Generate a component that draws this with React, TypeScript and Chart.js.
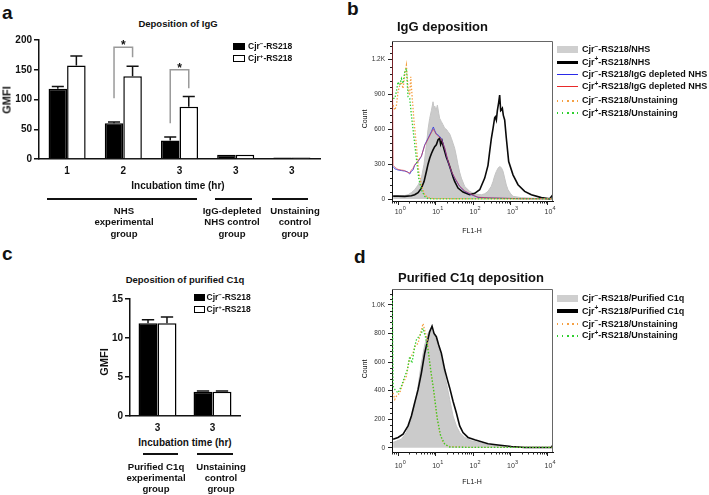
import React, { useEffect, useRef } from 'react';
import { Chart, registerables } from 'chart.js';

Chart.register(...registerables);

const FONT = "'Liberation Sans', Arial, Helvetica, sans-serif";

// ---------------- Panel a: Deposition of IgG ----------------
const aCategories = ['1', '2', '3', '3', '3'];
const aCjrMinus = [118, 60, 31, 7, 2.5];
const aCjrPlus = [157, 139, 88, 7, 2.5];
const aCjrMinusErr = [122, 62, 37, null, null];
const aCjrPlusErr = [173, 156, 105, null, null];
const aYTicks = [0, 50, 100, 150, 200];
const aSigIndex = [1, 2];
const aSigLeftFoot = [102, 60];
const aSigTop = [188, 150];
const aSigRightFoot = [171, 119];
const aSigLabel = ['*', '*'];
const aGroupLabels = [
  ['NHS', 'experimental', 'group'],
  ['IgG-depleted', 'NHS control', 'group'],
  ['Unstaining', 'control', 'group'],
];

// ---------------- Panel c: Deposition of purified C1q ----------------
const cCategories = ['3', '3'];
const cCjrMinus = [11.9, 3.1];
const cCjrPlus = [11.9, 3.1];
const cCjrMinusErr = [12.35, 3.2];
const cCjrPlusErr = [12.7, 3.2];
const cYTicks = [0, 5, 10, 15];
const cGroupLabels = [
  ['Purified C1q', 'experimental', 'group'],
  ['Unstaining', 'control', 'group'],
];

// ---------------- Histogram axes ----------------
const flowXTicks = [1, 10, 100, 1000, 10000];
const flowXTickBase = ['10', '10', '10', '10', '10'];
const flowXTickExp = ['0', '1', '2', '3', '4'];
const bYTicks = [0, 300, 600, 900, 1200];
const bYTickLabels = ['0', '300', '600', '900', '1.2K'];
const dYTicks = [0, 200, 400, 600, 800, 1000];
const dYTickLabels = ['0', '200', '400', '600', '800', '1.0K'];

// ---------------- Panel b: IgG deposition (FL1-H, Count) ----------------
const bGrayX = [0.74, 1.0, 1.51, 1.85, 2.27, 2.78, 3.42, 4.19, 4.94, 5.7, 6.31, 6.99, 7.74, 8.58, 9.12, 9.5, 10.3, 11.2, 12.15, 12.9, 14.3, 15.8, 17.6, 19.45, 21.5, 23.9, 26.4, 29.3, 32.4, 35.9, 39.8, 44.1, 48.9, 60.0, 81.5, 111, 167, 205, 251, 308, 342, 378, 419, 464, 514, 570, 631, 699, 774, 858, 1010, 1166, 1945, 5412, 12270, 13590];
const bGrayY = [20, 20, 30, 37, 55, 80, 120, 180, 300, 465, 600, 694, 760, 837, 780, 800, 760, 808, 740, 694, 666, 640, 608, 600, 580, 560, 523, 480, 437, 370, 294, 230, 180, 108, 66, 43, 37, 45, 66, 110, 151, 200, 237, 265, 280, 270, 240, 180, 120, 80, 45, 23, 12, 5, 2, 2];
const bBlackX = [0.74, 1.0, 1.51, 2.27, 2.78, 3.42, 4.19, 4.94, 5.7, 6.31, 6.99, 7.74, 8.58, 9.5, 10.5, 11.7, 12.9, 13.7, 14.9, 16.2, 17.6, 19.45, 21.5, 23.9, 26.4, 29.3, 32.4, 39.8, 54.1, 81.5, 111, 151, 205, 251, 278, 308, 342, 378, 394, 419, 446, 483, 514, 547, 570, 606, 644, 699, 774, 894, 1166, 1585, 2387, 3594, 6642, 11080, 13050, 13590];
const bBlackY = [25, 25, 23, 28, 37, 55, 94, 150, 237, 300, 351, 390, 423, 450, 466, 510, 523, 470, 500, 450, 408, 360, 323, 280, 237, 190, 151, 94, 60, 37, 49, 80, 180, 290, 408, 520, 608, 700, 708, 680, 760, 830, 894, 760, 766, 780, 720, 680, 523, 323, 208, 123, 66, 37, 12, 2, 30, 10];
const bBlueX = [0.74, 0.82, 0.9, 1.0, 1.23, 1.51, 1.77, 2.05, 2.27, 2.51, 2.78, 3.42, 4.19, 5.14, 6.31, 7.74, 8.75, 9.5, 10.5, 11.7, 14.3, 17.6, 21.5, 26.4, 32.4, 44.1, 60.0, 90.3, 136, 251, 1945, 13590];
const bBlueY = [280, 260, 255, 250, 245, 240, 235, 215, 240, 250, 290, 323, 366, 466, 523, 580, 620, 590, 560, 551, 523, 437, 323, 237, 180, 108, 66, 37, 14, 9, 3, 2];
const bRedX = [0.7, 0.74, 0.82, 0.9, 1.0, 1.23, 1.51, 1.77, 2.05, 2.27, 2.51, 2.78, 3.42, 4.19, 5.14, 6.31, 7.74, 8.75, 9.5, 10.5, 11.7, 14.3, 17.6, 21.5, 26.4, 32.4, 44.1, 60.0, 90.3, 136, 251, 1945, 13590];
const bRedY = [1330, 290, 275, 265, 255, 250, 245, 230, 225, 250, 265, 295, 330, 370, 460, 515, 570, 600, 580, 555, 540, 515, 440, 330, 240, 185, 110, 70, 40, 16, 10, 3, 2];
const bOrangeX = [0.74, 0.82, 0.9, 1.0, 1.11, 1.23, 1.36, 1.51, 1.67, 1.85, 2.05, 2.18, 2.36, 2.67, 3.08, 3.56, 4.19, 5.14, 6.31, 8.58, 100, 13590];
const bOrangeY = [808, 766, 800, 923, 980, 1008, 951, 1066, 1151, 951, 894, 1051, 894, 666, 466, 237, 123, 37, 12, 3, 2, 2];
const bGreenX = [0.74, 0.82, 0.9, 1.0, 1.11, 1.23, 1.36, 1.51, 1.67, 1.85, 2.05, 2.27, 2.67, 3.08, 3.56, 4.19, 5.14, 6.31, 8.58, 13590];
const bGreenY = [866, 866, 923, 1008, 980, 1037, 995, 1094, 1123, 880, 866, 723, 523, 351, 180, 80, 23, 3, 2, 2];
const bLegendSigns = ['\u2212', '+', '\u2212', '+', '\u2212', '+'];
const bLegendSuffix = ['/NHS', '/NHS', '/IgG depleted NHS', '/IgG depleted NHS', '/Unstaining', '/Unstaining'];

// ---------------- Panel d: Purified C1q deposition ----------------
const dGrayX = [0.74, 1.23, 1.67, 2.27, 2.78, 3.42, 4.19, 5.14, 6.31, 7.43, 8.58, 10.5, 12.9, 15.8, 19.45, 23.9, 29.3, 35.9, 44.1, 60.0, 90.3, 167, 251, 699, 1945, 13590];
const dGrayY = [37, 60, 106, 199, 292, 431, 593, 720, 801, 836, 801, 755, 674, 569, 454, 338, 222, 153, 106, 72, 49, 32, 19, 9, 5, 2];
const dBlackX = [0.74, 1.0, 1.36, 1.85, 2.27, 2.78, 3.42, 4.19, 5.14, 6.06, 6.99, 8.07, 9.12, 10.5, 12.15, 14.3, 17.6, 20.7, 23.9, 29.3, 35.9, 44.1, 54.1, 73.6, 111, 167, 251, 464, 1052, 2387, 12270, 13590];
const dBlackY = [60, 72, 95, 153, 222, 315, 407, 523, 662, 743, 813, 852, 801, 778, 720, 662, 546, 477, 419, 326, 245, 153, 106, 72, 56, 42, 28, 19, 9, 2, 2, 20];
const dOrangeX = [0.74, 0.82, 0.9, 1.11, 1.36, 1.67, 1.85, 2.05, 2.51, 2.78, 3.42, 3.78, 4.19, 4.64, 5.14, 6.06, 6.99, 8.58, 10.5, 12.9, 15.8, 21.5, 90.3, 13590];
const dOrangeY = [384, 338, 360, 384, 454, 500, 569, 627, 662, 708, 731, 778, 824, 870, 824, 755, 593, 431, 245, 106, 37, 9, 2, 2];
const dGreenX = [0.7, 0.74, 0.82, 1.0, 1.23, 1.51, 1.77, 2.05, 2.36, 2.78, 3.08, 3.56, 4.19, 4.64, 5.36, 6.31, 7.43, 9.12, 11.2, 13.7, 17.6, 23.9, 90.3, 13590];
const dGreenY = [1060, 431, 408, 384, 431, 500, 546, 639, 593, 708, 755, 778, 801, 836, 778, 685, 546, 384, 199, 83, 25, 5, 2, 2];
const dLegendSigns = ['\u2212', '+', '\u2212', '+'];
const dLegendSuffix = ['/Purified C1q', '/Purified C1q', '/Unstaining', '/Unstaining'];

// ---------------- Plugins ----------------
const errorBarsPlugin = {
  id: 'errorBars',
  afterDatasetsDraw(chart: any, _a: any, opts: any) {
    const { ctx } = chart;
    const y = chart.scales.y;
    ctx.save();
    ctx.strokeStyle = '#111';
    ctx.lineWidth = 1.5;
    (opts.errs || []).forEach((errs: any[], d: number) => {
      const meta = chart.getDatasetMeta(d);
      errs.forEach((e: any, i: number) => {
        if (e == null) return;
        const bar = meta.data[i];
        const py = y.getPixelForValue(e);
        const half = (bar.width * opts.capRatio) / 2;
        ctx.beginPath();
        ctx.moveTo(bar.x, bar.y);
        ctx.lineTo(bar.x, py);
        ctx.moveTo(bar.x - half, py);
        ctx.lineTo(bar.x + half, py);
        ctx.stroke();
      });
    });
    ctx.restore();
  },
};

const bracketPlugin = {
  id: 'sigBrackets',
  afterDatasetsDraw(chart: any, _a: any, opts: any) {
    if (!opts.index) return;
    const { ctx } = chart;
    const y = chart.scales.y;
    const m0 = chart.getDatasetMeta(0);
    const m1 = chart.getDatasetMeta(1);
    ctx.save();
    opts.index.forEach((idx: number, k: number) => {
      const xl = m0.data[idx].x;
      const xr = m1.data[idx].x;
      const yl = y.getPixelForValue(opts.leftFoot[k]);
      const yt = y.getPixelForValue(opts.top[k]);
      const yr = y.getPixelForValue(opts.rightFoot[k]);
      ctx.strokeStyle = '#9a9a9a';
      ctx.lineWidth = 1.5;
      ctx.beginPath();
      ctx.moveTo(xl, yl);
      ctx.lineTo(xl, yt);
      ctx.lineTo(xr, yt);
      ctx.lineTo(xr, yr);
      ctx.stroke();
      ctx.fillStyle = '#111';
      ctx.font = `bold 12px ${FONT}`;
      ctx.textAlign = 'center';
      ctx.textBaseline = 'alphabetic';
      ctx.fillText(opts.label[k], (xl + xr) / 2, yt + 2);
    });
    ctx.restore();
  },
};

const flowFramePlugin = {
  id: 'flowFrame',
  afterDraw(chart: any, _a: any, o: any) {
    const { ctx, chartArea: a } = chart;
    const x = chart.scales.x;
    const y = chart.scales.y;
    ctx.save();
    ctx.strokeStyle = '#666';
    ctx.lineWidth = 1;
    ctx.beginPath();
    ctx.moveTo(a.left, a.top + 0.5);
    ctx.lineTo(a.right - 0.5, a.top + 0.5);
    ctx.lineTo(a.right - 0.5, a.bottom);
    ctx.stroke();
    ctx.strokeStyle = '#222';
    ctx.beginPath();
    for (let k = -1; k <= 4; k++) {
      for (let m = 2; m <= 9; m++) {
        const v = m * Math.pow(10, k);
        if (v < x.min || v > x.max) continue;
        const px = Math.round(x.getPixelForValue(v)) + 0.5;
        ctx.moveTo(px, a.bottom);
        ctx.lineTo(px, a.bottom + 2.5);
      }
    }
    for (let v = o.yMinorStep; v < y.max; v += o.yMinorStep) {
      if (Math.abs(v % o.yMajorStep) < 1e-6) continue;
      const py = Math.round(y.getPixelForValue(v)) + 0.5;
      ctx.moveTo(a.left, py);
      ctx.lineTo(a.left - 2, py);
    }
    ctx.stroke();
    // decade labels: "10" with a raised exponent
    ctx.fillStyle = '#333';
    ctx.textBaseline = 'alphabetic';
    flowXTicks.forEach((v, i) => {
      const px = x.getPixelForValue(v);
      ctx.font = `7px ${FONT}`;
      ctx.textAlign = 'center';
      ctx.fillText(flowXTickBase[i], px + 0.5, a.bottom + o.labelBase);
      ctx.font = `5.5px ${FONT}`;
      ctx.textAlign = 'left';
      ctx.fillText(flowXTickExp[i], px + 4.6, a.bottom + o.labelBase - 4);
    });
    ctx.restore();
  },
};

// ---------------- Config builders ----------------
function barConfig(p: any) {
  const tickFont = { family: FONT, size: 10, weight: 'bold' };
  return {
    type: 'bar',
    data: {
      labels: p.categories,
      datasets: [
        { data: p.minus, backgroundColor: '#000', borderColor: '#000', borderWidth: 1.5, categoryPercentage: p.catPct, barPercentage: 1, borderSkipped: 'start' },
        { data: p.plus, backgroundColor: '#fff', borderColor: '#000', borderWidth: 1.5, categoryPercentage: p.catPct, barPercentage: 1, borderSkipped: 'start' },
      ],
    },
    options: {
      responsive: false,
      animation: false,
      events: [],
      layout: { padding: { top: p.padTop, right: p.padRight, left: 0, bottom: 0 } },
      plugins: {
        legend: { display: false },
        title: { display: false },
        tooltip: { enabled: false },
        errorBars: { errs: [p.minusErr, p.plusErr], capRatio: 0.65 },
        sigBrackets: p.brackets || {},
      },
      scales: {
        x: {
          grid: { display: false, drawTicks: false },
          border: { display: true, color: '#111', width: 1.5 },
          ticks: { color: '#111', font: tickFont, padding: 6, maxRotation: 0, autoSkip: false },
          afterFit: (s: any) => { s.height = p.xH; },
        },
        y: {
          min: 0,
          max: p.yMax,
          grid: { display: true, drawOnChartArea: false, tickLength: 5, color: '#111', lineWidth: 1.5 },
          border: { display: true, color: '#111', width: 1.5 },
          ticks: { color: '#111', font: tickFont, padding: 2 },
          afterBuildTicks: (s: any) => { s.ticks = p.yTicks.map((v: number) => ({ value: v })); },
          afterFit: (s: any) => { s.width = p.yW; },
        },
      },
    },
    plugins: [errorBarsPlugin, bracketPlugin],
  };
}

function flowConfig(p: any) {
  const tickFontY = { family: FONT, size: 6.5 };
  return {
    type: 'line',
    data: {
      datasets: p.series.map((s: any) => ({
        data: s.xs.map((x: number, i: number) => ({ x, y: s.ys[i] })),
        borderColor: s.color,
        backgroundColor: s.fill || 'transparent',
        fill: s.fill ? 'origin' : false,
        borderWidth: s.width,
        borderDash: s.dash || [],
        pointRadius: 0,
        tension: 0,
        order: s.order,
      })),
    },
    options: {
      responsive: false,
      animation: false,
      events: [],
      layout: { padding: { top: p.padTop, right: p.padRight, left: 0, bottom: 0 } },
      plugins: {
        legend: { display: false },
        title: { display: false },
        tooltip: { enabled: false },
        flowFrame: { yMinorStep: p.yMinorStep, yMajorStep: p.yMajorStep, labelBase: p.labelBase },
      },
      scales: {
        x: {
          type: 'logarithmic',
          min: 0.69,
          max: 13600,
          grid: { display: true, drawOnChartArea: false, tickLength: 4, color: '#222', lineWidth: 1 },
          border: { display: true, color: '#111', width: 1 },
          ticks: { display: false },
          afterBuildTicks: (s: any) => { s.ticks = flowXTicks.map((v) => ({ value: v })); },
          afterFit: (s: any) => { s.height = p.xH; },
        },
        y: {
          type: 'linear',
          min: p.yMin,
          max: p.yMax,
          grid: { display: true, drawOnChartArea: false, tickLength: 4, color: '#222', lineWidth: 1 },
          border: { display: true, color: '#111', width: 1 },
          ticks: { color: '#333', font: tickFontY, padding: 3, callback: (_v: any, i: number) => p.yLabels[i] },
          afterBuildTicks: (s: any) => { s.ticks = p.yTicks.map((v: number) => ({ value: v })); },
          afterFit: (s: any) => { s.width = p.yW; },
        },
      },
    },
    plugins: [flowFramePlugin],
  };
}

const DOT = [1.4, 1.8];

const makeA = () => barConfig({
  categories: aCategories, minus: aCjrMinus, plus: aCjrPlus, minusErr: aCjrMinusErr, plusErr: aCjrPlusErr,
  yTicks: aYTicks, yMax: 200, catPct: 0.66, padTop: 10, padRight: 10, xH: 31, yW: 39,
  brackets: { index: aSigIndex, leftFoot: aSigLeftFoot, top: aSigTop, rightFoot: aSigRightFoot, label: aSigLabel },
});
const makeC = () => barConfig({
  categories: cCategories, minus: cCjrMinus, plus: cCjrPlus, minusErr: cCjrMinusErr, plusErr: cCjrPlusErr,
  yTicks: cYTicks, yMax: 15, catPct: 0.69, padTop: 14, padRight: 10, xH: 19, yW: 40,
});
const makeB = () => flowConfig({
  yMin: -17, yMax: 1360, yTicks: bYTicks, yLabels: bYTickLabels, yMinorStep: 60, yMajorStep: 300,
  padTop: 11, padRight: 7, xH: 44, yW: 32, labelBase: 12.5,
  series: [
    { xs: bGrayX, ys: bGrayY, color: '#c4c4c4', fill: '#cbcbcb', width: 1, order: 6 },
    { xs: bBlackX, ys: bBlackY, color: '#0a0a0a', width: 1.6, order: 5 },
    { xs: bBlueX, ys: bBlueY, color: 'rgba(50,60,220,0.85)', width: 1, order: 4 },
    { xs: bRedX, ys: bRedY, color: 'rgba(215,50,60,0.6)', width: 1, order: 3 },
    { xs: bOrangeX, ys: bOrangeY, color: '#f5a043', width: 1.3, dash: DOT, order: 2 },
    { xs: bGreenX, ys: bGreenY, color: '#2fcf2f', width: 1.3, dash: DOT, order: 1 },
  ],
});
const makeD = () => flowConfig({
  yMin: -30, yMax: 1112, yTicks: dYTicks, yLabels: dYTickLabels, yMinorStep: 40, yMajorStep: 200,
  padTop: 11, padRight: 7, xH: 41, yW: 32, labelBase: 15.5,
  series: [
    { xs: dGrayX, ys: dGrayY, color: '#c4c4c4', fill: '#cbcbcb', width: 1, order: 4 },
    { xs: dBlackX, ys: dBlackY, color: '#0a0a0a', width: 1.6, order: 3 },
    { xs: dOrangeX, ys: dOrangeY, color: '#f5a043', width: 1.3, dash: DOT, order: 2 },
    { xs: dGreenX, ys: dGreenY, color: '#2fcf2f', width: 1.3, dash: DOT, order: 1 },
  ],
});

// ---------------- Components ----------------
function ChartCanvas({ x, y, w, h, make }: any) {
  const ref = useRef<HTMLCanvasElement>(null);
  useEffect(() => {
    const chart = new Chart(ref.current as HTMLCanvasElement, make());
    return () => chart.destroy();
  }, []);
  return <canvas ref={ref} width={w} height={h} style={{ position: 'absolute', left: x, top: y, width: w, height: h }} />;
}

function T({ x, y, size, bold = true, align = 'left', color = '#111', children }: any) {
  const style: any = {
    position: 'absolute', top: y - 0.8465 * size, left: x, fontSize: size, lineHeight: 1,
    fontWeight: bold ? 'bold' : 'normal', whiteSpace: 'nowrap', color, fontFamily: FONT,
  };
  if (align === 'center') style.transform = 'translateX(-50%)';
  return <div style={style}>{children}</div>;
}

function RT({ cx, cy, size, bold = true, children }: any) {
  return (
    <div style={{ position: 'absolute', left: cx, top: cy, fontSize: size, lineHeight: 1, fontWeight: bold ? 'bold' : 'normal', whiteSpace: 'nowrap', fontFamily: FONT, color: '#111', transform: 'translate(-50%,-50%) rotate(-90deg)' }}>
      {children}
    </div>
  );
}

function Strain({ sign }: any) {
  return (
    <>
      Cjr<span style={{ fontSize: '0.72em', position: 'relative', top: '-0.5em' }}>{sign}</span>-RS218
    </>
  );
}

function Box({ x, y, w, h, bg, border }: any) {
  return <div style={{ position: 'absolute', left: x, top: y, width: w, height: h, background: bg, border: border || 'none', boxSizing: 'border-box' }} />;
}

function Dots({ x, y, w, color }: any) {
  return <div style={{ position: 'absolute', left: x, top: y - 0.75, width: w, height: 1.5, backgroundImage: `repeating-linear-gradient(to right, ${color} 0px, ${color} 1.5px, transparent 1.5px, transparent 5px)` }} />;
}

function GroupLabel({ cx, lines, baseline, step, size }: any) {
  return (
    <>
      {lines.map((t: string, i: number) => (
        <T key={i} x={cx} y={baseline + i * step} size={size} align="center">{t}</T>
      ))}
    </>
  );
}

export default function App() {
  const bSwatches = [
    <Box key="0" x={557} y={46.3} w={21} h={7} bg="#cfcfcf" />,
    <Box key="1" x={557} y={60.7} w={21} h={3.6} bg="#000" />,
    <Box key="2" x={557} y={73.5} w={21} h={1.8} bg="#2a2ae8" />,
    <Box key="3" x={557} y={85.6} w={21} h={1.8} bg="#e82a2a" />,
    <Dots key="4" x={557} y={101} w={21} color="#f5a043" />,
    <Dots key="5" x={557} y={113} w={21} color="#2fcf2f" />,
  ];
  const bBaselines = [52.8, 65.2, 78, 90, 104, 116.4];
  const dSwatches = [
    <Box key="0" x={557} y={294.5} w={21} h={7.5} bg="#cfcfcf" />,
    <Box key="1" x={557} y={309.3} w={21} h={3.8} bg="#000" />,
    <Dots key="2" x={557} y={324} w={21} color="#f5a043" />,
    <Dots key="3" x={557} y={336} w={21} color="#2fcf2f" />,
  ];
  const dBaselines = [301.6, 314.3, 327.3, 339];

  return (
    <div style={{ position: 'fixed', left: 0, top: 0, width: 709, height: 495, background: '#fff', overflow: 'hidden', fontFamily: FONT, color: '#111' }}>
      <ChartCanvas x={0} y={30} w={330} h={160} make={makeA} />
      <ChartCanvas x={90} y={285} w={160} h={150} make={makeC} />
      <ChartCanvas x={360} y={30} w={200} h={215} make={makeB} />
      <ChartCanvas x={360} y={278} w={200} h={215} make={makeD} />

      {/* Panel letters */}
      <T x={2} y={19} size={19}>a</T>
      <T x={347} y={15} size={19}>b</T>
      <T x={2} y={260} size={19}>c</T>
      <T x={354} y={263} size={19}>d</T>

      {/* Panel a */}
      <T x={178} y={27} size={9.5} align="center">Deposition of IgG</T>
      <Box x={233} y={43} w={12} h={6.5} bg="#000" />
      <Box x={233} y={55} w={12} h={6.5} bg="#fff" border="1px solid #000" />
      <T x={248} y={49.5} size={8.5}><Strain sign={'\u2212'} /></T>
      <T x={248} y={61.5} size={8.5}><Strain sign="+" /></T>
      <RT cx={7} cy={100} size={11}>GMFI</RT>
      <T x={178} y={189} size={10} align="center">Incubation time (hr)</T>
      <Box x={47} y={198} w={150} h={2} bg="#111" />
      <Box x={215} y={198} w={37} h={2} bg="#111" />
      <Box x={272} y={198} w={36} h={2} bg="#111" />
      <GroupLabel cx={124} lines={aGroupLabels[0]} baseline={214} step={11.4} size={9.6} />
      <GroupLabel cx={232} lines={aGroupLabels[1]} baseline={214} step={11.4} size={9.6} />
      <GroupLabel cx={295} lines={aGroupLabels[2]} baseline={214} step={11.4} size={9.6} />

      {/* Panel c */}
      <T x={185} y={283} size={9.5} align="center">Deposition of purified C1q</T>
      <Box x={194} y={294} w={10.5} h={6.5} bg="#000" />
      <Box x={194} y={306} w={10.5} h={6.5} bg="#fff" border="1px solid #000" />
      <T x={206.5} y={300.3} size={8.5}><Strain sign={'\u2212'} /></T>
      <T x={206.5} y={312.3} size={8.5}><Strain sign="+" /></T>
      <RT cx={104} cy={362} size={11}>GMFI</RT>
      <T x={185} y={446} size={10} align="center">Incubation time (hr)</T>
      <Box x={143} y={453} w={35} h={2} bg="#111" />
      <Box x={197} y={453} w={36} h={2} bg="#111" />
      <GroupLabel cx={156} lines={cGroupLabels[0]} baseline={470.5} step={11} size={9.6} />
      <GroupLabel cx={221} lines={cGroupLabels[1]} baseline={470.5} step={11} size={9.6} />

      {/* Panel b */}
      <T x={397} y={31} size={13}>IgG deposition</T>
      {bSwatches}
      {bLegendSigns.map((s, i) => (
        <T key={i} x={582} y={bBaselines[i]} size={9}><Strain sign={s} />{bLegendSuffix[i]}</T>
      ))}
      <RT cx={363.5} cy={119} size={7} bold={false}>Count</RT>
      <T x={472} y={232.5} size={7} bold={false} align="center">FL1-H</T>

      {/* Panel d */}
      <T x={398} y={282} size={13}>Purified C1q deposition</T>
      {dSwatches}
      {dLegendSigns.map((s, i) => (
        <T key={i} x={582} y={dBaselines[i]} size={9}><Strain sign={s} />{dLegendSuffix[i]}</T>
      ))}
      <RT cx={363.5} cy={369} size={7} bold={false}>Count</RT>
      <T x={472} y={483.5} size={7} bold={false} align="center">FL1-H</T>
    </div>
  );
}
